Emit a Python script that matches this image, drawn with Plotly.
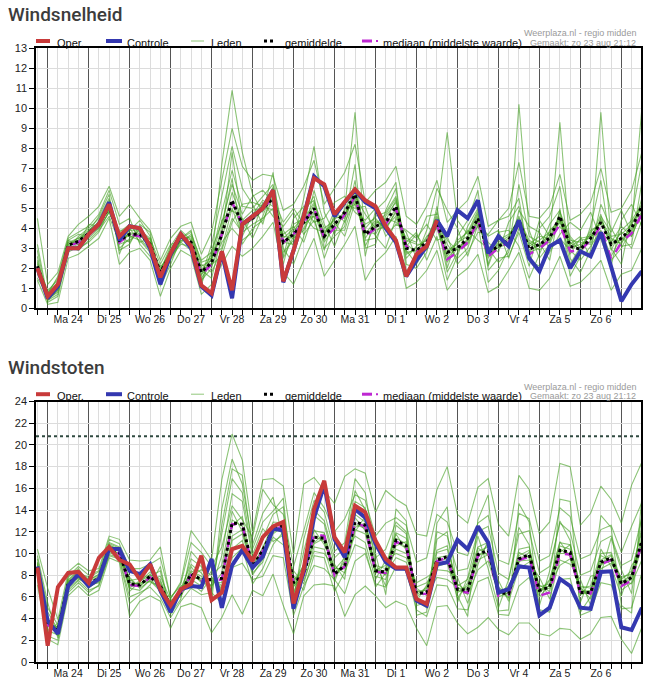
import plotly.graph_objects as go
import pandas as pd

# ---------------- data ----------------
start = pd.Timestamp("2020-08-23 18:00")
times = [(start + pd.Timedelta(hours=6 * i)).strftime("%Y-%m-%d %H:%M") for i in range(60)]

day_labels = ["Ma 24", "Di 25", "Wo 26", "Do 27", "Vr 28", "Za 29", "Zo 30",
              "Ma 31", "Di 1", "Wo 2", "Do 3", "Vr 4", "Za 5", "Zo 6"]
day_label_pos = [(pd.Timestamp("2020-08-24 12:00") + pd.Timedelta(days=k)).strftime("%Y-%m-%d %H:%M")
                 for k in range(len(day_labels))]
day_lines = [(pd.Timestamp("2020-08-24") + pd.Timedelta(days=k)).strftime("%Y-%m-%d") for k in range(15)]

# Windsnelheid (Bft)
spd_oper = [2.0, 0.6, 1.2, 3.0, 3.0, 3.7, 4.2, 5.2, 3.6, 4.1,
            4.0, 3.1, 1.55, 2.75, 3.7, 3.1, 1.15, 0.75, 2.85, 0.9,
            4.2, 4.6, 5.0, 5.9, 1.35, 2.9, 4.6, 6.5, 6.2, 4.7,
            5.3, 5.95, 5.4, 5.1, 4.1, 3.4, 1.6, 2.7, 3.1, 4.4]
spd_ctrl = [2.0, 0.5, 1.1, 3.0, 3.0, 3.7, 4.2, 5.3, 3.4, 4.1,
            4.0, 3.0, 1.2, 2.7, 3.7, 3.0, 1.1, 0.65, 2.8, 0.5,
            4.2, 4.6, 5.0, 5.9, 1.3, 2.9, 4.6, 6.6, 6.1, 4.6,
            5.3, 5.9, 5.3, 5.0, 4.0, 3.3, 1.6, 2.4, 3.1, 4.4,
            3.6, 4.9, 4.5, 5.4, 2.75, 3.6, 3.1, 4.4, 2.5, 1.85,
            3.1, 3.4, 2.0, 2.85, 2.6, 3.8, 2.1, 0.35, 1.2, 1.85]
spd_mean = [2.1, 0.6, 1.1, 3.15, 3.35, 3.75, 4.2, 5.1, 3.4, 3.7,
            3.7, 3.2, 1.8, 2.7, 3.6, 3.3, 1.8, 2.3, 3.7, 5.4,
            4.2, 4.5, 5.0, 5.5, 3.3, 3.7, 4.3, 5.0, 3.6, 4.2,
            4.8, 5.7, 3.7, 4.1, 4.3, 5.1, 3.0, 2.9, 3.3, 4.3,
            2.8, 3.0, 3.5, 4.5, 2.8, 3.1, 3.4, 4.4, 2.95, 3.2,
            3.5, 4.6, 3.1, 2.95, 3.5, 4.3, 3.2, 3.5, 4.0, 5.1]
spd_median = [2.0, 0.6, 1.1, 3.1, 3.3, 3.7, 4.2, 5.1, 3.3, 3.7,
              3.6, 3.1, 1.7, 2.7, 3.6, 3.2, 1.7, 2.2, 3.7, 5.3,
              4.2, 4.5, 5.0, 5.5, 3.3, 3.7, 4.3, 5.0, 3.5, 4.0,
              4.7, 5.6, 3.6, 4.0, 4.2, 5.0, 3.1, 2.8, 3.2, 4.2,
              2.45, 2.8, 3.3, 4.4, 2.6, 3.0, 3.3, 4.2, 2.7, 3.0,
              3.4, 4.2, 2.85, 2.9, 3.4, 4.1, 2.45, 3.3, 3.75, 4.7]

spd_m01 = [2.3, 0.4, 0.9, 3.0, 3.6, 4.0, 4.5, 5.5, 3.0, 3.5, 3.9, 3.4, 1.5, 2.9, 3.8, 3.0, 1.2, 2.6, 4.8, 6.9,
           5.1, 5.0, 5.6, 6.2, 3.9, 3.1, 4.8, 5.6, 3.0, 3.6, 4.1, 6.4, 3.0, 3.2, 4.9, 6.0, 2.2, 2.0, 2.8, 5.1,
           2.0, 3.6, 4.4, 5.9, 1.9, 2.5, 2.6, 3.8, 2.1, 4.0, 4.6, 6.1, 2.5, 1.8, 2.9, 5.2, 4.0, 3.1, 3.2, 6.3]
spd_m02 = [1.8, 0.8, 1.3, 3.4, 3.2, 3.5, 4.0, 4.8, 3.8, 4.2, 3.5, 2.9, 2.1, 2.5, 3.4, 3.6, 2.2, 1.8, 2.9, 4.5,
           3.8, 4.2, 4.5, 5.0, 2.6, 4.5, 5.1, 4.3, 4.5, 5.3, 5.6, 4.8, 4.4, 5.0, 3.6, 4.2, 3.9, 3.5, 4.2, 3.4,
           3.6, 2.2, 2.8, 3.8, 3.7, 4.4, 4.6, 5.5, 2.4, 2.1, 2.8, 3.7, 4.3, 3.9, 4.8, 3.4, 2.1, 4.4, 5.2, 4.1]
spd_m03 = [2.6, 0.3, 0.6, 2.8, 3.1, 3.9, 4.3, 5.3, 2.9, 3.2, 4.2, 3.8, 1.1, 2.2, 3.5, 3.9, 1.6, 3.2, 5.6, 8.1,
           6.0, 5.2, 4.2, 6.1, 3.0, 2.2, 3.6, 5.9, 4.2, 3.1, 4.4, 7.2, 2.6, 4.9, 5.4, 6.3, 1.8, 2.6, 3.9, 6.0,
           4.9, 4.0, 2.6, 4.2, 1.3, 1.9, 3.0, 6.2, 3.6, 3.3, 2.4, 5.0, 1.6, 2.6, 4.1, 6.4, 3.0, 2.2, 4.6, 7.3]
spd_m04 = [1.5, 0.7, 1.6, 3.5, 3.8, 4.1, 4.7, 5.9, 4.2, 4.5, 3.2, 2.6, 1.9, 3.1, 3.9, 3.4, 2.0, 2.1, 3.3, 4.0,
           3.4, 3.8, 5.3, 4.6, 4.1, 4.8, 3.7, 4.4, 2.9, 4.8, 5.2, 5.0, 5.1, 3.6, 3.0, 4.5, 3.3, 3.8, 2.4, 3.6,
           1.4, 2.6, 4.1, 5.0, 2.2, 3.8, 3.9, 3.1, 1.5, 2.7, 3.9, 4.4, 3.2, 3.6, 2.5, 4.6, 3.8, 4.9, 3.7, 5.5]
spd_m05 = [3.2, 0.5, 0.8, 3.1, 2.9, 3.4, 3.9, 4.6, 3.3, 3.8, 3.6, 3.3, 1.4, 2.4, 3.3, 2.9, 1.3, 2.9, 4.3, 6.2,
           4.7, 5.6, 5.9, 5.3, 2.5, 3.6, 4.0, 5.2, 3.4, 4.6, 4.5, 6.0, 3.1, 4.2, 4.7, 5.5, 2.9, 2.2, 3.1, 4.8,
           2.9, 3.2, 3.9, 3.4, 3.0, 2.3, 2.8, 4.9, 4.1, 3.8, 3.0, 3.5, 2.9, 2.4, 3.1, 3.9, 2.6, 3.6, 3.0, 4.4]
spd_m06 = [4.5, 1.2, 1.8, 3.6, 4.2, 4.6, 5.1, 6.1, 4.6, 5.2, 4.5, 3.9, 2.4, 3.5, 4.1, 4.3, 2.7, 3.8, 6.4, 9.0,
           7.1, 6.4, 6.7, 6.6, 4.9, 5.2, 6.1, 7.4, 5.2, 6.0, 6.8, 8.2, 5.3, 5.9, 6.3, 7.1, 4.6, 4.2, 5.1, 6.4,
           4.3, 4.9, 5.4, 6.6, 4.1, 4.4, 5.0, 7.3, 4.6, 4.5, 5.1, 6.7, 4.4, 4.7, 5.3, 7.0, 4.8, 5.0, 5.9, 7.8]
spd_m07 = [1.4, 0.2, 0.3, 2.5, 2.7, 3.1, 3.5, 4.5, 2.2, 2.8, 3.0, 2.4, 0.6, 2.0, 2.9, 2.6, 0.7, 1.2, 2.2, 3.1,
           2.6, 3.0, 3.6, 4.3, 1.8, 1.2, 2.4, 3.5, 1.6, 2.4, 3.2, 4.1, 1.4, 2.3, 2.8, 3.6, 1.0, 1.3, 1.9, 2.9,
           0.9, 1.6, 2.0, 2.7, 0.8, 1.1, 1.9, 2.8, 1.0, 0.9, 1.5, 2.6, 1.1, 1.3, 1.8, 2.4, 0.9, 1.7, 1.9, 3.0]
spd_m08 = [2.0, 0.6, 1.0, 3.2, 3.5, 3.7, 4.1, 5.0, 3.6, 3.9, 4.4, 3.6, 1.7, 2.7, 3.6, 3.5, 1.9, 1.5, 3.6, 7.8,
           4.2, 4.4, 4.9, 5.8, 3.5, 4.0, 4.6, 4.0, 3.8, 4.3, 3.6, 5.3, 4.2, 4.5, 3.9, 4.9, 2.5, 3.1, 3.4, 4.5,
           3.2, 2.5, 3.0, 4.6, 2.5, 3.3, 3.6, 4.5, 3.4, 3.1, 3.3, 4.8, 3.6, 3.0, 3.9, 4.2, 3.5, 3.2, 4.3, 5.0]
spd_m09 = [2.2, 0.9, 1.4, 3.3, 3.3, 3.6, 4.4, 5.2, 3.2, 3.4, 3.8, 3.1, 1.8, 3.0, 3.7, 3.2, 1.5, 2.3, 7.2, 10.9,
           7.8, 5.7, 4.8, 6.8, 2.8, 3.4, 5.5, 8.1, 4.8, 3.7, 5.0, 9.8, 3.4, 3.5, 4.4, 5.4, 3.2, 2.8, 3.6, 4.0,
           2.3, 3.0, 3.4, 4.1, 3.3, 2.8, 4.3, 5.1, 2.6, 4.4, 3.6, 4.1, 3.3, 2.9, 3.4, 4.7, 2.9, 3.9, 4.4, 5.2]
spd_m10 = [2.9, 0.4, 0.7, 3.0, 3.0, 3.3, 3.8, 4.9, 3.7, 3.6, 3.4, 2.8, 1.6, 2.6, 3.2, 3.1, 1.8, 2.7, 3.0, 5.0,
           3.6, 4.7, 5.4, 5.1, 3.7, 4.1, 3.3, 4.8, 3.3, 4.1, 4.9, 5.2, 3.8, 3.9, 4.1, 4.6, 3.5, 3.3, 4.6, 4.7,
           8.8, 4.4, 3.7, 4.8, 2.1, 3.5, 3.2, 10.2, 3.9, 2.5, 3.2, 4.4, 2.7, 3.5, 3.6, 3.8, 3.3, 4.1, 3.6, 4.9]
spd_m11 = [1.9, 0.7, 1.2, 3.3, 3.5, 3.9, 4.2, 5.0, 3.4, 3.7, 3.7, 3.0, 2.0, 2.8, 3.5, 3.8, 2.3, 2.5, 3.8, 5.8,
           4.4, 4.9, 5.0, 5.6, 3.2, 3.9, 4.4, 5.3, 4.0, 4.4, 5.4, 5.9, 4.0, 4.6, 4.8, 5.6, 2.7, 3.0, 3.0, 4.3,
           2.6, 3.3, 3.6, 4.7, 2.9, 3.0, 3.3, 4.2, 3.2, 3.6, 3.5, 9.3, 3.0, 3.2, 3.3, 9.8, 3.4, 3.4, 4.1, 10.0]
spd_m12 = [2.4, 0.5, 1.0, 3.1, 3.4, 3.8, 4.6, 5.7, 2.7, 4.0, 3.3, 3.5, 1.2, 2.5, 3.4, 3.3, 1.4, 2.0, 4.1, 6.5,
           3.2, 4.0, 4.4, 5.5, 4.3, 5.0, 4.2, 4.6, 2.5, 3.9, 3.9, 5.6, 4.7, 4.0, 4.5, 4.3, 3.8, 2.5, 3.3, 4.4,
           1.8, 2.8, 3.5, 4.5, 3.6, 3.9, 2.5, 4.0, 2.8, 3.0, 4.2, 4.9, 2.2, 3.1, 3.7, 3.7, 2.4, 3.0, 4.0, 4.6]
spd_m13 = [2.0, 0.6, 1.1, 3.2, 3.4, 3.7, 4.0, 4.8, 3.6, 3.3, 4.0, 3.2, 1.9, 2.9, 3.8, 3.0, 2.1, 2.4, 4.4, 4.9,
           4.5, 3.5, 4.6, 6.0, 3.3, 3.2, 5.0, 5.4, 3.6, 4.9, 4.3, 5.4, 3.5, 4.3, 4.2, 5.0, 3.1, 3.7, 2.9, 4.1,
           2.5, 3.1, 3.3, 4.4, 2.7, 3.2, 3.5, 4.6, 3.1, 3.4, 3.8, 4.5, 3.4, 3.3, 3.2, 4.5, 3.1, 3.8, 3.6, 4.8]
spd_m14 = [2.1, 0.4, 0.9, 3.0, 3.2, 4.2, 4.1, 5.4, 3.5, 3.6, 3.6, 3.3, 1.7, 2.6, 3.6, 3.4, 1.7, 2.2, 2.6, 4.3,
           5.2, 5.3, 5.1, 4.9, 2.2, 4.2, 4.5, 4.6, 3.9, 4.0, 4.7, 5.7, 3.9, 3.7, 4.6, 5.3, 2.8, 2.9, 3.5, 4.6,
           3.4, 2.9, 3.2, 4.3, 3.0, 3.4, 3.7, 4.3, 3.3, 2.9, 3.4, 4.6, 3.5, 2.8, 3.8, 4.3, 3.3, 3.3, 3.9, 4.7]
spd_m15 = [1.7, 0.8, 1.5, 3.4, 3.7, 3.6, 4.3, 4.9, 3.9, 3.9, 3.9, 3.5, 2.2, 3.2, 3.3, 3.7, 2.4, 2.8, 3.5, 5.3,
           3.9, 4.6, 5.2, 5.7, 3.6, 3.5, 3.9, 4.9, 3.7, 4.5, 4.6, 5.5, 3.7, 4.4, 4.0, 4.8, 3.4, 3.2, 3.2, 4.2,
           2.7, 3.4, 3.8, 4.9, 2.6, 3.1, 3.4, 4.4, 2.9, 3.2, 3.7, 4.3, 3.1, 3.4, 3.5, 4.4, 3.6, 3.7, 4.2, 5.1]

# Windstoten
gst_oper = [8.7, 1.5, 6.9, 8.2, 8.3, 7.3, 9.6, 10.6, 9.4, 9.0,
            7.6, 9.0, 6.7, 5.2, 6.7, 7.2, 9.8, 5.7, 6.4, 10.4,
            10.7, 9.3, 11.5, 12.5, 12.9, 5.4, 8.6, 14.1, 16.7, 11.5,
            10.1, 14.4, 13.8, 11.2, 9.5, 8.7, 8.7, 5.8, 5.35, 9.2]
gst_ctrl = [8.8, 3.8, 2.6, 7.0, 8.1, 7.0, 7.65, 10.4, 10.4, 8.4,
            8.1, 9.0, 6.6, 4.6, 6.7, 7.0, 6.9, 9.5, 5.0, 8.9,
            10.3, 8.7, 9.7, 12.3, 12.1, 4.9, 8.4, 13.3, 16.3, 11.3,
            9.65, 14.1, 13.3, 10.9, 9.2, 8.6, 8.6, 5.65, 5.2, 9.0,
            9.2, 11.25, 10.4, 12.5, 11.0, 6.4, 6.7, 8.8, 8.7, 4.3,
            5.0, 7.65, 7.0, 5.0, 4.9, 8.3, 8.35, 3.2, 2.95, 5.0]
gst_mean = [8.7, 3.5, 2.9, 7.2, 8.0, 7.2, 7.7, 10.5, 10.1, 7.2,
            7.1, 7.9, 7.0, 5.2, 6.4, 8.1, 7.6, 7.6, 7.7, 12.8,
            12.7, 8.8, 10.3, 12.2, 12.6, 7.3, 8.1, 11.5, 11.4, 8.1,
            8.9, 12.9, 12.6, 8.4, 8.3, 11.2, 10.7, 6.3, 6.4, 9.4,
            9.7, 6.7, 6.6, 9.9, 10.3, 6.4, 6.3, 9.5, 9.9, 6.6,
            6.9, 10.3, 10.1, 6.4, 6.4, 9.2, 9.6, 7.2, 7.8, 11.2]
gst_median = [8.6, 3.4, 2.8, 7.1, 8.0, 7.1, 7.6, 10.4, 10.0, 7.1,
              7.0, 7.8, 6.9, 5.1, 6.4, 8.0, 7.5, 7.5, 7.6, 12.7,
              12.6, 8.7, 10.2, 12.2, 12.5, 7.2, 8.0, 11.8, 11.6, 8.0,
              8.8, 12.8, 12.5, 8.3, 8.2, 11.1, 10.6, 6.2, 6.3, 9.3,
              9.6, 6.5, 6.4, 9.8, 10.1, 6.1, 6.2, 9.4, 9.7, 6.1,
              6.4, 10.0, 9.9, 6.3, 6.3, 9.0, 9.4, 7.0, 7.5, 11.0]

gst_m01 = [9.2, 4.1, 2.6, 7.6, 8.4, 7.5, 8.1, 11.0, 10.6, 6.5, 7.4, 8.3, 7.6, 5.0, 6.8, 9.0, 8.2, 6.9, 9.8, 15.5,
           14.8, 9.6, 11.4, 13.6, 14.3, 6.9, 9.0, 13.5, 12.7, 9.0, 7.6, 14.8, 14.2, 9.1, 7.0, 12.6, 11.8, 5.2, 5.5, 11.3,
           12.0, 5.5, 7.8, 11.6, 8.6, 5.0, 7.6, 12.4, 10.8, 5.2, 8.4, 13.0, 11.2, 5.5, 7.9, 8.1, 11.4, 8.5, 6.3, 13.6]
gst_m02 = [8.2, 3.0, 3.3, 7.0, 7.8, 6.9, 7.4, 10.2, 9.8, 7.8, 6.8, 7.5, 6.5, 5.6, 6.1, 7.6, 7.0, 8.4, 6.5, 10.4,
           11.2, 8.0, 9.5, 11.5, 10.8, 8.4, 7.2, 10.6, 10.4, 7.4, 9.8, 11.6, 11.0, 7.6, 9.4, 10.0, 9.6, 7.3, 7.8, 8.5,
           8.4, 7.8, 5.4, 9.0, 11.2, 7.5, 5.6, 8.6, 9.2, 7.8, 5.8, 9.4, 9.0, 7.6, 5.2, 10.4, 8.8, 6.1, 8.9, 10.3]
gst_m03 = [9.8, 5.5, 2.2, 6.6, 7.5, 6.6, 7.0, 9.8, 9.5, 5.4, 6.2, 7.1, 8.8, 4.4, 5.8, 10.2, 9.1, 5.5, 14.1, 18.7,
           16.4, 10.8, 13.7, 15.2, 11.2, 5.6, 11.3, 14.9, 13.8, 10.2, 11.0, 16.9, 15.6, 10.0, 6.2, 14.1, 13.0, 4.3, 4.6, 12.8,
           14.3, 6.1, 4.2, 13.1, 15.4, 4.7, 4.8, 14.6, 12.9, 4.4, 4.9, 15.0, 14.8, 4.6, 6.0, 13.5, 12.4, 5.2, 4.5, 15.2]
gst_m04 = [8.0, 2.6, 3.6, 7.4, 8.2, 7.8, 8.3, 10.8, 10.3, 8.3, 8.2, 8.6, 6.3, 6.0, 7.0, 7.3, 6.5, 7.8, 7.0, 9.6,
           10.5, 7.2, 8.6, 10.8, 12.0, 7.8, 6.6, 9.8, 9.6, 6.5, 8.3, 10.8, 10.4, 6.9, 8.2, 9.6, 9.2, 6.8, 6.1, 7.8,
           7.6, 6.9, 6.2, 8.5, 9.3, 6.3, 7.0, 9.0, 8.7, 6.0, 7.1, 8.9, 9.5, 7.0, 6.8, 8.6, 9.1, 7.5, 7.2, 9.4]
gst_m05 = [10.4, 6.8, 3.9, 8.3, 9.1, 8.4, 8.6, 11.6, 11.3, 9.4, 9.3, 9.4, 10.6, 5.8, 7.4, 12.1, 10.8, 9.4, 16.8, 21.0,
           18.6, 11.9, 16.8, 16.9, 16.2, 9.9, 16.4, 17.0, 15.8, 14.6, 17.1, 17.8, 17.4, 13.8, 15.8, 15.0, 14.4, 11.8, 11.6, 15.9,
           18.0, 13.6, 12.8, 16.1, 16.9, 12.7, 11.6, 17.2, 15.9, 11.8, 12.9, 18.3, 18.0, 12.6, 13.7, 16.2, 15.0, 12.8, 16.3, 18.4]
gst_m06 = [7.1, 2.1, 1.6, 6.1, 7.0, 6.1, 6.6, 9.6, 9.2, 4.2, 5.6, 6.1, 5.6, 3.1, 5.1, 5.4, 5.0, 2.7, 4.1, 6.2,
           4.4, 6.6, 6.1, 8.1, 5.2, 2.6, 6.1, 7.1, 7.2, 7.0, 4.2, 6.2, 7.0, 6.1, 5.0, 5.6, 5.2, 3.1, 1.5, 5.1,
           5.2, 3.6, 2.6, 3.2, 4.1, 3.0, 2.5, 3.6, 3.6, 2.6, 2.4, 3.1, 3.0, 2.1, 2.6, 4.1, 4.2, 2.1, 0.8, 3.2]
gst_m07 = [8.6, 3.3, 2.7, 7.2, 8.1, 7.0, 7.8, 10.4, 10.0, 7.0, 7.0, 7.8, 7.2, 5.3, 6.5, 8.4, 7.9, 7.4, 7.3, 12.6,
           13.4, 8.7, 10.6, 12.4, 13.0, 7.0, 7.8, 11.6, 11.1, 8.3, 8.8, 12.4, 12.8, 8.6, 8.0, 11.4, 10.9, 6.0, 6.8, 9.3,
           9.5, 6.4, 7.0, 10.2, 10.6, 6.0, 6.4, 9.8, 10.3, 6.9, 7.2, 10.7, 10.4, 6.2, 6.5, 9.4, 9.9, 7.0, 7.6, 11.5]
gst_m08 = [9.0, 4.6, 3.0, 7.8, 8.6, 7.3, 7.5, 10.7, 10.4, 7.5, 7.7, 8.0, 6.8, 4.8, 6.3, 7.9, 8.5, 8.0, 8.9, 13.9,
           12.0, 9.3, 9.9, 11.8, 12.5, 6.4, 8.6, 11.0, 11.8, 7.7, 9.4, 13.3, 12.1, 8.9, 8.6, 11.8, 10.3, 6.6, 6.2, 10.1,
           10.4, 7.2, 6.5, 10.5, 9.8, 6.8, 6.0, 10.1, 9.6, 6.3, 7.5, 11.1, 9.7, 6.6, 6.2, 9.8, 9.3, 7.8, 8.1, 12.4]
gst_m09 = [8.4, 3.7, 2.4, 6.8, 7.6, 7.4, 7.9, 10.1, 9.7, 6.8, 6.6, 7.6, 7.9, 5.7, 6.0, 8.8, 7.4, 7.1, 11.8, 16.9,
           15.6, 9.9, 12.3, 11.1, 11.7, 7.6, 8.3, 12.2, 10.8, 8.8, 8.2, 12.0, 13.4, 7.9, 7.6, 10.7, 11.1, 5.6, 7.1, 8.8,
           9.1, 5.9, 7.3, 9.6, 10.9, 6.6, 5.9, 9.2, 10.1, 7.1, 6.5, 10.1, 10.8, 6.9, 5.8, 8.9, 9.8, 6.6, 7.3, 10.7]
gst_m10 = [8.9, 3.4, 3.1, 7.4, 7.9, 7.2, 7.6, 10.6, 10.2, 7.3, 7.2, 7.7, 6.6, 5.4, 6.6, 7.7, 7.7, 7.6, 6.8, 11.2,
           11.8, 8.4, 10.1, 12.0, 12.4, 7.2, 8.0, 10.9, 11.4, 8.0, 9.0, 12.7, 12.3, 8.2, 8.5, 11.0, 10.5, 6.5, 6.6, 9.6,
           9.8, 6.8, 6.8, 9.9, 10.0, 6.5, 6.7, 9.6, 9.8, 6.7, 7.0, 10.0, 10.0, 6.5, 6.6, 9.1, 9.5, 7.4, 8.0, 11.0]
gst_m11 = [9.5, 5.0, 3.4, 7.9, 8.8, 8.0, 8.4, 11.3, 10.9, 8.6, 8.6, 9.0, 9.6, 5.9, 7.2, 11.0, 10.1, 8.8, 10.6, 14.4,
           13.1, 11.5, 15.9, 14.5, 13.6, 8.8, 12.1, 15.6, 14.2, 12.0, 13.2, 15.4, 14.9, 11.6, 12.8, 13.3, 12.6, 9.2, 9.6, 13.6,
           12.9, 10.1, 9.8, 12.8, 13.5, 9.4, 9.0, 13.7, 13.2, 9.3, 9.8, 14.2, 13.4, 9.5, 9.9, 12.2, 12.6, 10.1, 12.5, 14.7]
gst_m12 = [7.6, 2.4, 2.0, 6.4, 7.3, 6.4, 7.1, 9.9, 9.6, 6.0, 6.4, 6.9, 5.9, 4.1, 5.6, 6.8, 6.2, 6.4, 5.4, 8.7,
           9.1, 7.6, 7.9, 9.8, 9.6, 4.3, 7.0, 8.9, 8.6, 7.6, 6.3, 9.3, 10.0, 7.2, 6.9, 8.8, 8.4, 4.8, 4.2, 7.1,
           7.0, 4.9, 4.8, 7.4, 7.8, 4.4, 4.3, 7.0, 7.8, 4.8, 4.6, 7.6, 7.7, 4.3, 4.7, 7.3, 7.1, 4.9, 5.0, 8.2]
gst_m13 = [8.5, 3.9, 2.8, 7.1, 8.0, 6.8, 7.7, 10.5, 9.9, 7.6, 6.9, 8.1, 7.4, 5.1, 6.2, 8.3, 7.3, 7.0, 8.2, 13.1,
           12.5, 8.9, 10.4, 12.9, 12.8, 7.4, 8.9, 12.1, 11.9, 8.5, 9.6, 13.6, 12.9, 8.5, 8.9, 11.9, 11.4, 6.2, 6.9, 10.3,
           10.7, 7.0, 7.6, 10.6, 11.0, 6.9, 6.2, 10.4, 10.6, 6.5, 7.6, 11.0, 10.8, 6.8, 7.0, 10.0, 10.1, 7.6, 8.4, 12.0]
gst_m14 = [9.1, 2.9, 2.5, 7.5, 8.3, 7.6, 8.0, 10.9, 10.5, 6.8, 7.5, 7.9, 8.4, 4.6, 6.4, 9.5, 8.8, 6.3, 12.6, 17.8,
           17.2, 10.4, 12.9, 13.9, 15.1, 6.1, 10.2, 14.0, 13.0, 9.6, 10.5, 15.8, 14.0, 9.6, 10.4, 12.9, 12.0, 5.6, 5.0, 12.0,
           11.6, 8.4, 8.6, 12.0, 12.5, 8.2, 7.6, 11.8, 12.1, 8.2, 8.8, 12.8, 12.0, 8.0, 8.4, 11.1, 11.6, 8.9, 9.4, 13.3]
gst_m15 = [8.3, 3.6, 3.2, 7.3, 7.7, 7.1, 7.3, 10.3, 10.0, 7.1, 7.3, 7.4, 6.9, 5.5, 6.7, 8.0, 7.5, 8.9, 6.2, 11.6,
           12.2, 8.2, 9.2, 12.3, 11.9, 7.9, 7.5, 10.2, 10.0, 8.6, 8.6, 12.2, 11.8, 8.3, 8.1, 10.4, 10.0, 6.9, 7.3, 9.0,
           9.2, 6.6, 6.3, 9.4, 9.9, 6.2, 6.6, 9.3, 9.4, 6.6, 6.8, 10.4, 9.8, 6.7, 6.3, 9.0, 9.3, 7.2, 7.7, 10.9]

gst_limit = 20.8

spd_members = [spd_m01, spd_m02, spd_m03, spd_m04, spd_m05, spd_m06, spd_m07, spd_m08,
               spd_m09, spd_m10, spd_m11, spd_m12, spd_m13, spd_m14, spd_m15]
gst_members = [gst_m01, gst_m02, gst_m03, gst_m04, gst_m05, gst_m06, gst_m07, gst_m08,
               gst_m09, gst_m10, gst_m11, gst_m12, gst_m13, gst_m14, gst_m15]

# ---------------- styles ----------------
W, H = 654, 684
ML, MR, MT, MB = 36, 13, 48, 22
PW = W - ML - MR
PH = H - MT - MB

def pxx(x):
    return (x - ML) / PW

def pxy(y):
    return (H - MB - y) / PH

def clamp(v):
    return min(1.0, max(0.0, v))

RED = "rgb(200,58,58)"
BLUE = "rgb(52,56,176)"
GREEN = "rgba(70,160,35,0.62)"
MAGENTA = "rgb(190,40,210)"
FONT = "Arial, Liberation Sans, sans-serif"

fig = go.Figure()

def add_panel(members, oper, ctrl, mean, median, xa, ya):
    for m in members:
        fig.add_trace(go.Scatter(x=times, y=m, mode="lines", xaxis=xa, yaxis=ya,
                                 line=dict(color=GREEN, width=1.1), hoverinfo="skip", showlegend=False))
    fig.add_trace(go.Scatter(x=times, y=median, mode="lines", xaxis=xa, yaxis=ya,
                             line=dict(color=MAGENTA, width=2.5, dash="dash"), showlegend=False))
    fig.add_trace(go.Scatter(x=times, y=mean, mode="lines", xaxis=xa, yaxis=ya,
                             line=dict(color="black", width=3, dash="dot"), showlegend=False))
    fig.add_trace(go.Scatter(x=times, y=ctrl, mode="lines", xaxis=xa, yaxis=ya,
                             line=dict(color=BLUE, width=4), showlegend=False))
    fig.add_trace(go.Scatter(x=times[:len(oper)], y=oper, mode="lines", xaxis=xa, yaxis=ya,
                             line=dict(color=RED, width=4), showlegend=False))

add_panel(spd_members, spd_oper, spd_ctrl, spd_mean, spd_median, "x", "y")
add_panel(gst_members, gst_oper, gst_ctrl, gst_mean, gst_median, "x2", "y2")

top1 = 48.3
bot1 = 308.3
top2 = 401.5
bot2 = 662.0

xrange_ = ["2020-08-23 17:10", "2020-09-07 11:30"]
# grid axis: dark day lines at midnight, light 6-hour grid, no labels
xgrid = dict(type="date", range=xrange_, tickvals=day_lines, showticklabels=False,
             ticks="outside", ticklen=5, tickcolor="black", showgrid=True, gridcolor="#555555",
             gridwidth=1, showline=True, linecolor="black", linewidth=1.5, mirror=True,
             automargin=False,
             minor=dict(dtick=6 * 3600 * 1000, tick0="2020-08-24", showgrid=True,
                        gridcolor="#dcdcdc", gridwidth=1, ticks="outside", ticklen=5,
                        tickcolor="black"),
             zeroline=False, fixedrange=True)
# label axis: day names at noon
xlab = dict(type="date", range=xrange_, tickvals=day_label_pos, ticktext=day_labels,
            ticks="", showgrid=False, showline=False, zeroline=False, automargin=False,
            tickfont=dict(family=FONT, size=10.5, color="#222"), ticklabelstandoff=3,
            fixedrange=True)
ycommon = dict(ticks="outside", ticklen=5, tickcolor="black", showgrid=True, gridcolor="#dcdcdc",
               gridwidth=1, showline=True, linecolor="black", linewidth=1.5, mirror=True,
               tickfont=dict(family=FONT, size=11, color="#222"), zeroline=False, automargin=False,
               fixedrange=True)

fig.update_layout(
    width=W, height=H,
    margin=dict(l=ML, r=MR, t=MT, b=MB),
    paper_bgcolor="white", plot_bgcolor="white",
    showlegend=False,
    xaxis=dict(domain=[0, 1], anchor="y", **xgrid),
    xaxis2=dict(domain=[0, 1], anchor="y2", **xgrid),
    xaxis3=dict(overlaying="x", anchor="y", side="bottom", **xlab),
    xaxis4=dict(overlaying="x2", anchor="y2", side="bottom", **xlab),
    yaxis=dict(domain=[clamp(pxy(bot1)), clamp(pxy(top1))], range=[0, 13], dtick=1, anchor="x", **ycommon),
    yaxis2=dict(domain=[clamp(pxy(bot2)), clamp(pxy(top2))], range=[0, 24], dtick=2, anchor="x2", **ycommon),
)
# invisible helper traces so the label axes are drawn
fig.add_trace(go.Scatter(x=[times[0]], y=[None], xaxis="x3", yaxis="y", showlegend=False, hoverinfo="skip"))
fig.add_trace(go.Scatter(x=[times[0]], y=[None], xaxis="x4", yaxis="y2", showlegend=False, hoverinfo="skip"))

shapes = [dict(type="line", xref="paper", yref="y2", x0=0, x1=1, y0=gst_limit, y1=gst_limit,
               line=dict(color="#2f4a40", width=2, dash="dot"))]

annotations = []
titles = ["Windsnelheid", "Windstoten"]
offsets = [0, top2 - top1]
legend_items = [
    ("Oper.", RED, 4, "solid", 36, 50, 55),
    ("Controle", BLUE, 4, "solid", 106, 122, 125),
    ("Leden", "rgba(70,160,35,0.6)", 1, "solid", 191, 204, 209),
    ("gemiddelde", "black", 3, "dot", 264, 276, 283),
    ("mediaan (middelste waarde)", MAGENTA, 3, "solid", 362, 372, 381),
]
for title, off in zip(titles, offsets):
    annotations.append(dict(text=title, xref="paper", yref="paper", x=pxx(6), y=pxy(14.5 + off),
                            xanchor="left", yanchor="middle", showarrow=False,
                            font=dict(family="Roboto, Arial, sans-serif", size=19, color="#3c3c3c",
                                      weight=500)))
    ly = 41 + off
    for text, col, wd, dash, x0, x1, xt in legend_items:
        shapes.append(dict(type="line", xref="paper", yref="paper", x0=pxx(x0), x1=pxx(x1),
                           y0=pxy(ly), y1=pxy(ly), line=dict(color=col, width=wd, dash=dash)))
        annotations.append(dict(text=text, xref="paper", yref="paper", x=pxx(xt), y=pxy(ly + 1.5),
                                xanchor="left", yanchor="middle", showarrow=False,
                                font=dict(family=FONT, size=11, color="#111")))
    shapes.append(dict(type="line", xref="paper", yref="paper", x0=pxx(376), x1=pxx(378),
                       y0=pxy(ly), y1=pxy(ly), line=dict(color=MAGENTA, width=2)))
    annotations.append(dict(text="Weerplaza.nl - regio midden", xref="paper", yref="paper",
                            x=pxx(638), y=pxy(33.3 + off), xanchor="right", yanchor="middle",
                            showarrow=False, font=dict(family=FONT, size=9, color="#9a9a9a")))
    annotations.append(dict(text="Gemaakt: zo 23 aug 21:12", xref="paper", yref="paper",
                            x=pxx(638), y=pxy(42.7 + off), xanchor="right", yanchor="middle",
                            showarrow=False, font=dict(family=FONT, size=9, color="#9a9a9a")))

fig.update_layout(shapes=shapes, annotations=annotations)
fig.write_html("out.html", config={"displayModeBar": False},
               post_script="document.body.style.margin='0px';")
